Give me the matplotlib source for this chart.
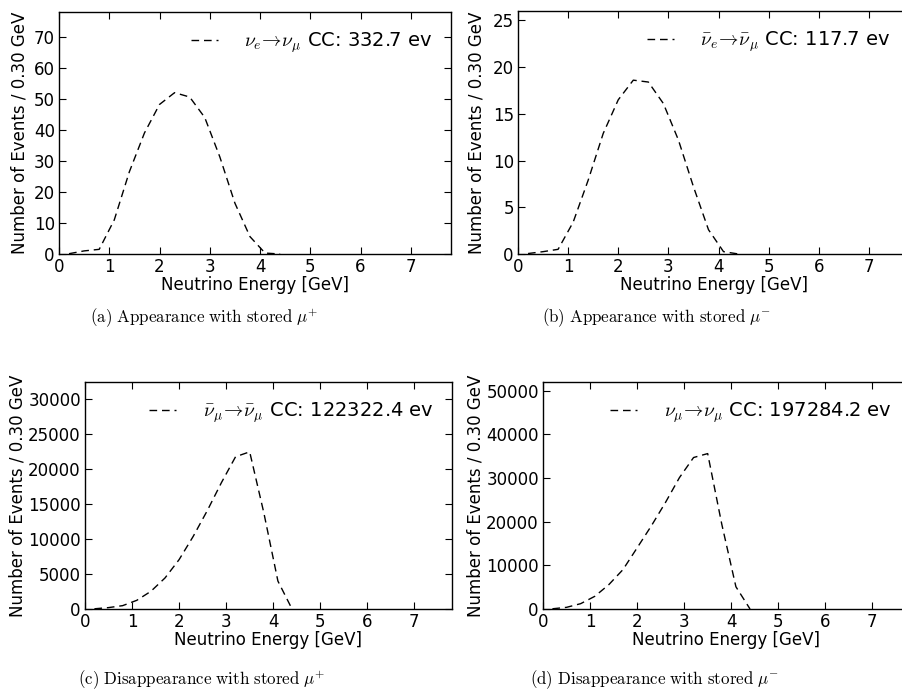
import matplotlib
matplotlib.use("Agg")
import matplotlib.pyplot as plt

plt.rcParams['font.family'] = ['DejaVu Sans']
plt.rcParams['mathtext.fontset'] = 'cm'

# Bin centres [GeV] (bin width 0.30 GeV)
energy = [0.2, 0.5, 0.8, 1.1, 1.4, 1.7, 2.0, 2.3, 2.6, 2.9, 3.2, 3.5, 3.8, 4.1, 4.4]

# (a) nu_e -> nu_mu appearance, stored mu+
app_mup = [0.1, 1.0, 1.5, 11.0, 26.5, 39.0, 48.2, 52.0, 50.6, 44.0, 31.3, 16.4, 5.6, 0.3, 0.0]
# (b) nubar_e -> nubar_mu appearance, stored mu-
app_mum = [0.05, 0.25, 0.5, 3.4, 7.9, 12.9, 16.5, 18.6, 18.4, 16.1, 12.2, 7.2, 2.6, 0.25, 0.0]
# (c) nubar_mu -> nubar_mu disappearance, stored mu+
dis_mup = [30, 200, 480, 1240, 2530, 4440, 7070, 10400, 14100, 18100, 21800, 22500, 13800, 4000, 0]
# (d) nu_mu -> nu_mu disappearance, stored mu-
dis_mum = [50, 380, 1220, 2900, 5590, 9030, 14000, 19000, 24350, 30100, 34700, 35600, 19400, 5100, 0]

labels = [r"$\nu_e\!\rightarrow\!\nu_\mu$ CC: 332.7 ev",
          r"$\bar{\nu}_e\!\rightarrow\!\bar{\nu}_\mu$ CC: 117.7 ev",
          r"$\bar{\nu}_\mu\!\rightarrow\!\bar{\nu}_\mu$ CC: 122322.4 ev",
          r"$\nu_\mu\!\rightarrow\!\nu_\mu$ CC: 197284.2 ev"]
captions = [r"$\mathrm{(a)\ Appearance\ with\ stored}\ \mu^{+}$",
            r"$\mathrm{(b)\ Appearance\ with\ stored}\ \mu^{-}$",
            r"$\mathrm{(c)\ Disappearance\ with\ stored}\ \mu^{+}$",
            r"$\mathrm{(d)\ Disappearance\ with\ stored}\ \mu^{-}$"]
ylims = [78, 26, 32500, 52000]
yticks = [list(range(0, 71, 10)), list(range(0, 26, 5)),
          list(range(0, 30001, 5000)), list(range(0, 50001, 10000))]
series = [app_mup, app_mum, dis_mup, dis_mum]

W, H = 902, 698
fig = plt.figure(figsize=(W / 100, H / 100), dpi=100)

# pixel boxes: left, right, top, bottom
boxes = [(59, 451, 12, 254), (518, 909, 11, 254),
         (85, 452, 382, 609), (543, 910, 382, 609)]
cap_pos = [(204, 318), (657, 318), (202, 680), (655, 680)]
ylabelpads = [4, 5, 1, 1]

for i in range(4):
    l, r, t, b = boxes[i]
    ax = fig.add_axes([l / W, 1 - b / H, (r - l) / W, (b - t) / H])
    ax.plot(energy, series[i], color='black', lw=1.0, dashes=(5.5, 3.5),
            label=labels[i])
    ax.set_xlim(0, 7.8)
    ax.set_ylim(0, ylims[i])
    ax.set_xticks(range(0, 8))
    ax.set_yticks(yticks[i])
    ax.tick_params(direction='in', top=True, right=True, length=5,
                   labelsize=12, pad=3)
    ax.set_xlabel("Neutrino Energy [GeV]", fontsize=12, labelpad=0)
    ax.set_ylabel("Number of Events / 0.30 GeV", fontsize=12,
                  labelpad=ylabelpads[i])
    for s in ax.spines.values():
        s.set_linewidth(1.0)
    ax.legend(loc='upper right', frameon=False, fontsize=14,
              handlelength=1.4, handletextpad=1.35, borderaxespad=0.5,
              borderpad=0.45)
    cx, cy = cap_pos[i]
    fig.text(cx / W, 1 - cy / H, captions[i], ha='center', va='center',
             fontsize=12.2)

fig.savefig("out.png", dpi=100)
